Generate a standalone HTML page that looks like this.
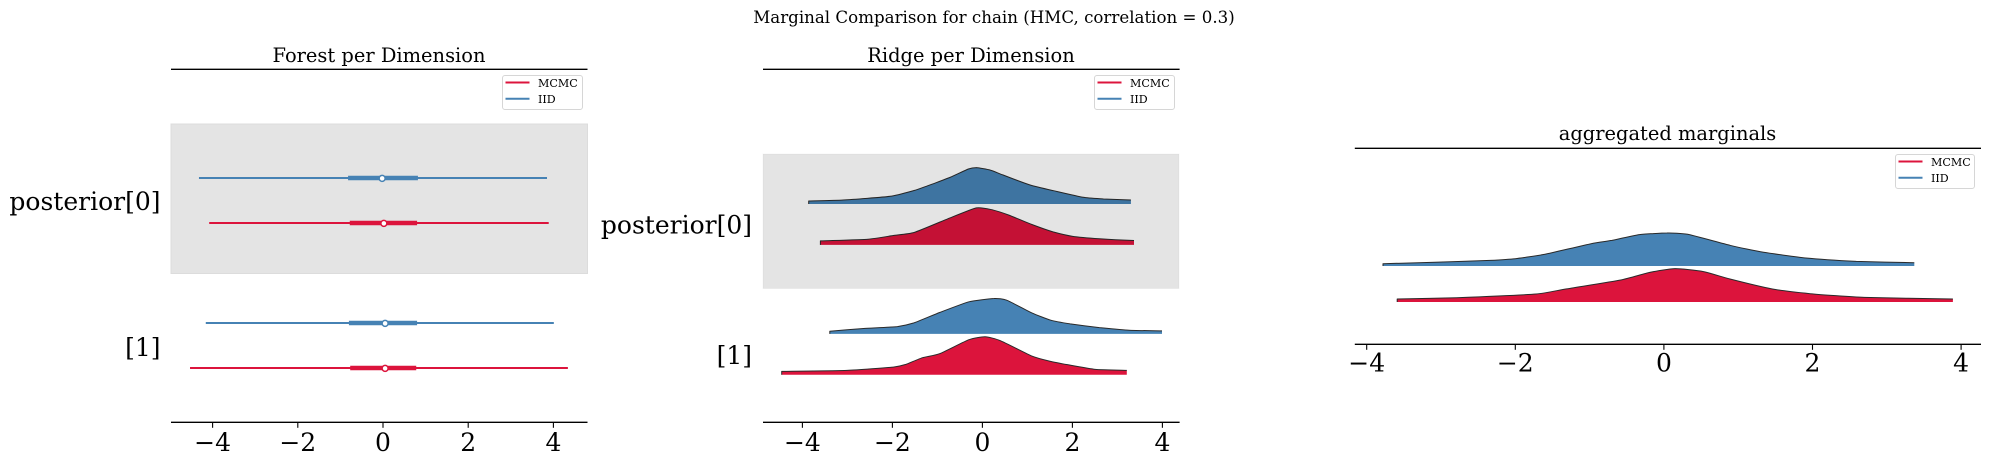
<!DOCTYPE html>
<html lang="en">
<head>
<meta charset="utf-8">
<title>Marginal Comparison</title>
<style>
html,body{margin:0;padding:0;background:#fff;width:1990px;height:465px;overflow:hidden}
svg{display:block}
text{font-family:"DejaVu Serif","Liberation Serif",serif;fill:#000}
</style>
</head>
<body>
<svg id="chart" xmlns="http://www.w3.org/2000/svg" width="1990" height="465" viewBox="0 0 1990 465">
<rect x="0" y="0" width="1990" height="465" fill="#fff"/>
<text x="994" y="23" text-anchor="middle" font-size="16.67">Marginal Comparison for chain (HMC, correlation = 0.3)</text>
<text x="379" y="62" text-anchor="middle" font-size="19.44">Forest per Dimension</text>
<text x="971" y="62" text-anchor="middle" font-size="19.44">Ridge per Dimension</text>
<text x="1667.5" y="140" text-anchor="middle" font-size="19.44">aggregated marginals</text>
</svg>
<script>
// ---- data ----
const tickValues = [-4, -2, 0, 2, 4];
const tickLabels = ['\u22124', '\u22122', '0', '2', '4'];
const dimensionLabels = ['posterior[0]', '[1]'];
const legendLabels = ['MCMC', 'IID'];

// forest: one entry per row, order [posterior[0] IID, posterior[0] MCMC, [1] IID, [1] MCMC]
const forestLow = [-4.32, -4.08, -4.16, -4.53];
const forestQ1 = [-0.82, -0.78, -0.80, -0.77];
const forestMedian = [-0.02, 0.02, 0.05, 0.05];
const forestQ3 = [0.82, 0.80, 0.80, 0.78];
const forestHigh = [3.85, 3.89, 4.01, 4.34];

// ridge: density curves
const ridge0IidX = [-3.86, -3.09, -2.05, -1.52, -1.31, -0.72, -0.31, -0.13, 0.17, 0.46, 1.06, 1.58, 2.24, 2.69, 3.30];
const ridge0IidD = [0.033, 0.044, 0.085, 0.150, 0.185, 0.296, 0.389, 0.404, 0.378, 0.322, 0.211, 0.148, 0.074, 0.056, 0.044];
const ridge0McmcX = [-3.60, -2.54, -1.98, -1.52, -0.77, -0.13, 0.22, 0.59, 1.10, 1.57, 1.99, 2.60, 3.37];
const ridge0McmcD = [0.044, 0.063, 0.104, 0.137, 0.289, 0.411, 0.389, 0.330, 0.226, 0.144, 0.096, 0.067, 0.048];
const ridge1IidX = [-3.39, -2.64, -1.89, -1.52, -0.95, -0.30, 0.26, 0.54, 1.10, 1.52, 1.95, 2.60, 3.26, 3.99];
const ridge1IidD = [0.030, 0.059, 0.081, 0.122, 0.237, 0.356, 0.393, 0.374, 0.233, 0.152, 0.111, 0.070, 0.041, 0.033];
const ridge1McmcX = [-4.46, -3.01, -1.98, -1.70, -1.33, -0.95, -0.30, 0.06, 0.40, 1.10, 1.48, 1.85, 2.51, 3.21];
const ridge1McmcD = [0.037, 0.048, 0.085, 0.115, 0.189, 0.233, 0.389, 0.422, 0.378, 0.207, 0.152, 0.115, 0.059, 0.048];

// aggregated: density curves
const aggIidX = [-3.78, -3.08, -2.34, -2.00, -1.60, -0.98, -0.70, -0.33, 0.04, 0.32, 0.89, 1.34, 1.91, 2.59, 3.37];
const aggIidD = [0.028, 0.044, 0.068, 0.088, 0.141, 0.269, 0.309, 0.378, 0.398, 0.382, 0.249, 0.165, 0.096, 0.056, 0.040];
const aggMcmcX = [-3.59, -2.79, -1.72, -1.32, -0.58, -0.19, 0.15, 0.52, 0.89, 1.46, 1.97, 2.70, 3.89];
const aggMcmcD = [0.036, 0.052, 0.096, 0.157, 0.265, 0.357, 0.402, 0.369, 0.277, 0.157, 0.100, 0.056, 0.036];

// ---- helpers ----
const NS = 'http://www.w3.org/2000/svg';
const svg = document.getElementById('chart');
const RED = '#dc143c';
const BLUE = '#4682b4';

function make(tag, attrs) {
  const el = document.createElementNS(NS, tag);
  for (const k in attrs) el.setAttribute(k, attrs[k]);
  svg.appendChild(el);
  return el;
}
function linearX(zeroPx, pxPerUnit) {
  return function (v) { return zeroPx + v * pxPerUnit; };
}
function forestY(i) {
  return 178 + 145 * Math.floor(i / 2) + 45 * (i % 2);
}
function ridgeBase(i) {
  return 204 + 129.85 * Math.floor(i / 2) + 40.85 * (i % 2);
}
function aggBase(i) {
  return 266 + 36 * i;
}

function drawAxis(name, left, right, top, bottom, xs, labelBaseline) {
  let el = make('line', { x1: left, x2: right, y1: top, y2: top, stroke: '#000', 'stroke-width': 1.3 });
  
  
  el = make('line', { x1: left, x2: right, y1: bottom, y2: bottom, stroke: '#000', 'stroke-width': 1.3 });
  
  
  tickValues.forEach(function (v, i) {
    const tick = make('line', { x1: xs(v), x2: xs(v), y1: bottom, y2: bottom + 5.5, stroke: '#000', 'stroke-width': 1.1 });
    
    
    const label = make('text', { x: xs(v), y: labelBaseline, 'text-anchor': 'middle', 'font-size': 25 });
    
    
    label.textContent = tickLabels[i];
  });
}

function drawLegend(name, bx, by, bw, bh) {
  const box = make('rect', { x: bx + 0.5, y: by + 0.5, width: bw, height: bh, rx: 2.5, fill: '#fff', stroke: '#d6d6d6', 'stroke-width': 1 });
  
  
  const colors = [RED, BLUE];
  legendLabels.forEach(function (t, i) {
    const rowY = by + 7.5 + i * 16.2;
    const swatch = make('line', { x1: bx + 3.5, x2: bx + 27.5, y1: rowY, y2: rowY, stroke: colors[i], 'stroke-width': 2 });
    
    
    const label = make('text', { x: bx + 36, y: rowY + 4.5, 'font-size': 11.1 });
    
    
    label.textContent = t;
  });
}

function drawDimensionLabels(name, right, baselines) {
  dimensionLabels.forEach(function (t, i) {
    const label = make('text', { x: right, y: baselines[i], 'text-anchor': 'end', 'font-size': 25 });
    
    
    label.textContent = t;
  });
}

// Smooth path through the density samples
function curvePath(pts) {
  let d = 'L' + pts[0][0].toFixed(1) + ' ' + pts[0][1].toFixed(1);
  for (let i = 0; i < pts.length - 1; i++) {
    const p0 = pts[Math.max(i - 1, 0)];
    const p1 = pts[i];
    const p2 = pts[i + 1];
    const p3 = pts[Math.min(i + 2, pts.length - 1)];
    const k = 0.09;
    const c1x = p1[0] + (p2[0] - p0[0]) * k;
    const c1y = p1[1] + (p2[1] - p0[1]) * k;
    const c2x = p2[0] - (p3[0] - p1[0]) * k;
    const c2y = p2[1] - (p3[1] - p1[1]) * k;
    d += 'C' + c1x.toFixed(1) + ' ' + c1y.toFixed(1) + ' ' + c2x.toFixed(1) + ' ' + c2y.toFixed(1) + ' ' + p2[0].toFixed(1) + ' ' + p2[1].toFixed(1);
  }
  return d;
}

function drawRidge(name, xs, base, scale, xv, dv, color) {
  const pts = xv.map(function (x, i) { return [xs(x), base - dv[i] * scale]; });
  const x0 = xs(xv[0]).toFixed(1);
  const x1 = xs(xv[xv.length - 1]).toFixed(1);
  const curve = curvePath(pts);
  const area = make('path', { d: 'M' + x0 + ' ' + base + curve + 'L' + x1 + ' ' + base + 'Z', fill: color });
  
  
  const outline = make('path', { d: 'M' + x0 + ' ' + base + curve, fill: 'none', stroke: '#2a2a2a', 'stroke-width': 1, 'stroke-linejoin': 'round' });
  
  
}

// ---- forest panel ----
const forestX = linearX(383, 42.6);
const forestBand = make('rect', { x: 171, y: 124, width: 416.5, height: 149.5, fill: '#e4e4e4', stroke: '#dcdcdc', 'stroke-width': 1 });


forestLow.forEach(function (low, i) {
  const color = i % 2 === 0 ? BLUE : RED;
  const y = forestY(i);
  const whisker = make('line', { x1: forestX(low), x2: forestX(forestHigh[i]), y1: y, y2: y, stroke: color, 'stroke-width': 2 });
  
  
  const box = make('line', { x1: forestX(forestQ1[i]), x2: forestX(forestQ3[i]), y1: y, y2: y, stroke: color, 'stroke-width': 4.6 });
  
  
  const point = make('circle', { cx: forestX(forestMedian[i]), cy: y + 0.4, r: 3, fill: '#fff', stroke: color, 'stroke-width': 1.5 });
  
  
});
drawAxis('forest', 171, 587.5, 69.3, 422.3, forestX, 451);
drawDimensionLabels('forest', 160.5, [210, 356]);
drawLegend('forest', 502, 75, 80, 34);

// ---- ridge panel ----
const ridgeX = linearX(982.4, 45);
drawRidge('ridge-0-iid', ridgeX, ridgeBase(0), 90, ridge0IidX, ridge0IidD, BLUE);
drawRidge('ridge-0-mcmc', ridgeX, ridgeBase(1), 90, ridge0McmcX, ridge0McmcD, RED);
drawRidge('ridge-1-iid', ridgeX, ridgeBase(2), 90, ridge1IidX, ridge1IidD, BLUE);
drawRidge('ridge-1-mcmc', ridgeX, ridgeBase(3), 90, ridge1McmcX, ridge1McmcD, RED);
const ridgeBand = make('rect', { x: 763, y: 154, width: 416, height: 134.5, fill: 'rgba(0,0,0,0.105)', stroke: 'rgba(0,0,0,0.03)', 'stroke-width': 1 });


drawAxis('ridge', 763, 1179.6, 69.3, 422.3, ridgeX, 451);
drawDimensionLabels('ridge', 752, [233.5, 364]);
drawLegend('ridge', 1094, 75, 80, 34);

// ---- aggregated panel ----
const aggX = linearX(1663.9, 74.3);
drawRidge('aggregated-iid', aggX, aggBase(0), 83, aggIidX, aggIidD, BLUE);
drawRidge('aggregated-mcmc', aggX, aggBase(1), 83, aggMcmcX, aggMcmcD, RED);
drawAxis('aggregated', 1354.8, 1981, 148.3, 344.3, aggX, 371.7);
drawLegend('aggregated', 1895, 154, 79, 34);
</script>
</body>
</html>
